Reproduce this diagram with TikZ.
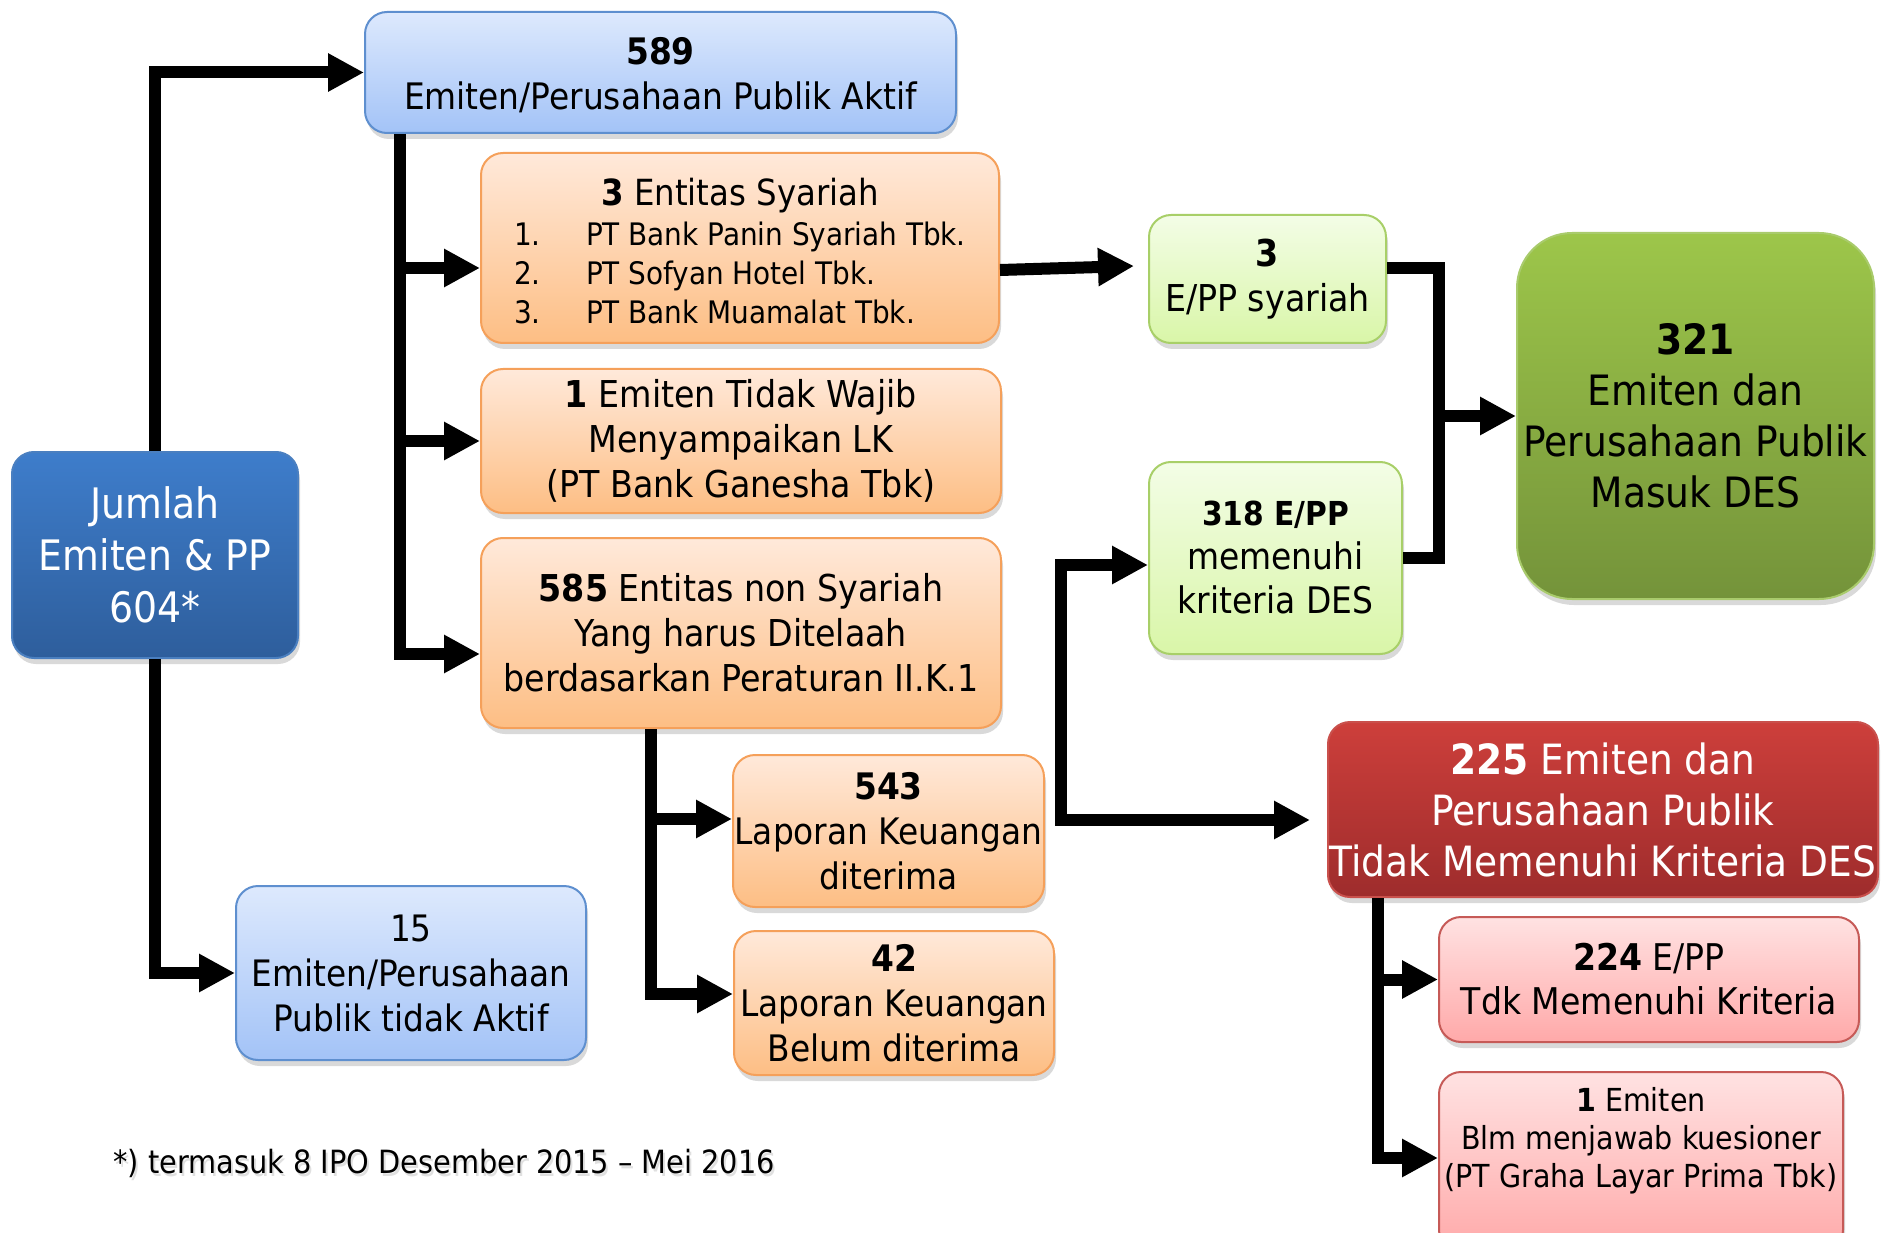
\documentclass[tikz,border=0pt]{standalone}
\usepackage{fontspec}
\setmainfont{DejaVu Sans Condensed}
\usetikzlibrary{arrows.meta,shadows}

\definecolor{bluetop}{HTML}{DDE9FD}
\definecolor{bluebot}{HTML}{A3C3F7}
\definecolor{blueline}{HTML}{5E8FCF}
\definecolor{navytop}{HTML}{3E7DCB}
\definecolor{navybot}{HTML}{2E5E9C}
\definecolor{navyline}{HTML}{4A7FC0}
\definecolor{orgtop}{HTML}{FFE9DA}
\definecolor{orgbot}{HTML}{FDBE84}
\definecolor{orgline}{HTML}{F5A05A}
\definecolor{limetop}{HTML}{F3FDE6}
\definecolor{limebot}{HTML}{D9F6A8}
\definecolor{limeline}{HTML}{A8CF68}
\definecolor{greentop}{HTML}{9DC64A}
\definecolor{greenbot}{HTML}{74933A}
\definecolor{greenline}{HTML}{A9CB6C}
\definecolor{redtop}{HTML}{CD3F3B}
\definecolor{redbot}{HTML}{9E2C2C}
\definecolor{redline}{HTML}{C9504C}
\definecolor{pinktop}{HTML}{FFE2E2}
\definecolor{pinkbot}{HTML}{FFA9A9}
\definecolor{pinkline}{HTML}{C65A57}

\tikzset{
    box/.style={rounded corners=22pt, inner sep=0pt, align=center, line width=2pt,
        drop shadow={shadow xshift=2pt, shadow yshift=-6pt, opacity=0.3}},
    paleblue/.style={box, draw=blueline, top color=bluetop, bottom color=bluebot},
    navy/.style={box, draw=navyline, top color=navytop, bottom color=navybot, text=white},
    orange/.style={box, draw=orgline, top color=orgtop, bottom color=orgbot},
    lime/.style={box, draw=limeline, top color=limetop, bottom color=limebot},
    leaf/.style={box, rounded corners=55pt, draw=greenline, top color=greentop, bottom color=greenbot},
    brick/.style={box, draw=redline, top color=redtop, bottom color=redbot, text=white},
    rose/.style={box, draw=pinkline, top color=pinktop, bottom color=pinkbot},
    link/.style={line width=12pt, line join=miter},
    arr/.style={link, -{Triangle[length=36pt,width=36pt]}},
    sz/.style 2 args={font=\fontsize{#1}{#2}\selectfont}
}

\begin{document}
\begin{tikzpicture}[x=1pt,y=-1pt]
    \useasboundingbox (0,0) rectangle (1883,1233);
    % boxes
    \node[navy, sz={42}{52}, minimum width=286pt, minimum height=206pt] (jml) at (155,555)
        {Jumlah\\Emiten \& PP\\604*};
    \node[paleblue, sz={36.5}{45}, minimum width=591pt, minimum height=121pt] (aktif) at (660.5,72.5)
        {\rule{0pt}{33pt}\textbf{589}\\Emiten/Perusahaan Publik Aktif};
    \node[orange, minimum width=518pt, minimum height=190pt] (syr) at (740,248)
        {\fontsize{36}{41}\selectfont\rule{0pt}{44pt}\textbf{3} Entitas Syariah\\[4pt]
         \fontsize{31}{39}\selectfont
         \begin{tabular}{@{}p{72pt}@{}l@{}}
            1. & PT Bank Panin Syariah Tbk.\\
            2. & PT Sofyan Hotel Tbk.\\
            3. & PT Bank Muamalat Tbk.
         \end{tabular}};
    \node[orange, sz={37}{45}, minimum width=520pt, minimum height=144pt] (wjb) at (741,441)
        {\textbf{1} Emiten Tidak Wajib\\Menyampaikan LK\\(PT Bank Ganesha Tbk)};
    \node[orange, sz={37}{45}, minimum width=520pt, minimum height=190pt] (non) at (741,633)
        {\textbf{585} Entitas non Syariah\\Yang harus Ditelaah\\berdasarkan Peraturan II.K.1};
    \node[orange, sz={36.5}{45}, minimum width=311pt, minimum height=152pt] (lk1) at (888.5,831)
        {\textbf{543}\\Laporan Keuangan\\diterima};
    \node[orange, sz={36.5}{45}, minimum width=320pt, minimum height=144pt] (lk2) at (894,1003)
        {\textbf{42}\\Laporan Keuangan\\Belum diterima};
    \node[paleblue, sz={36.4}{45}, minimum width=350pt, minimum height=174pt] (tdk) at (411,973)
        {15\\Emiten/Perusahaan\\Publik tidak Aktif};
    \node[lime, sz={37}{45}, minimum width=237pt, minimum height=128pt] (esy) at (1267.5,279)
        {\textbf{3}\\E/PP syariah};
    \node[lime, sz={36.6}{44}, minimum width=253pt, minimum height=192pt] (des) at (1275.5,558)
        {{\fontsize{33}{44}\selectfont\textbf{318 E/PP}}\\memenuhi\\kriteria DES};
    \node[leaf, sz={41.8}{51}, minimum width=357pt, minimum height=366pt] (masuk) at (1695.5,416)
        {\textbf{321}\\Emiten dan\\Perusahaan Publik\\Masuk DES};
    \node[brick, sz={41.7}{51}, minimum width=550pt, minimum height=175pt] (tmk) at (1603,809.5)
        {\textbf{225} Emiten dan\\Perusahaan Publik\\Tidak Memenuhi Kriteria DES};
    \node[rose, sz={36.8}{44}, minimum width=420pt, minimum height=125pt] (e224) at (1649,979.5)
        {\textbf{224} E/PP\\Tdk Memenuhi Kriteria};
    \node[rose, sz={31.7}{38}, minimum width=404pt, minimum height=180pt] (blm) at (1641,1162)
        {\textbf{1} Emiten\\Blm menjawab kuesioner\\(PT Graha Layar Prima Tbk)\\\strut};
    % footnote with soft shadow
    \node[anchor=west, sz={32}{38}, text=black!12] (notesh) at (112,1166)
        {*) termasuk 8 IPO Desember 2015 -- Mei 2016};
    \node[anchor=west, sz={32}{38}] (note) at (110,1163)
        {*) termasuk 8 IPO Desember 2015 -- Mei 2016};
    % connector points
    \coordinate (ta) at ([xshift=-260.5pt]aktif.south);
    \coordinate (syrin) at ([yshift=-20pt]syr.west);
    \coordinate (nonin) at ([yshift=-21pt]non.west);
    \coordinate (tb) at ([xshift=-90pt]non.south);
    \coordinate (lk1in) at ([yshift=12pt]lk1.west);
    \coordinate (lk2in) at ([yshift=9pt]lk2.west);
    \coordinate (syrout) at ([yshift=-22pt]syr.east);
    \coordinate (esyin) at ([xshift=-14pt,yshift=13pt]esy.west);
    \coordinate (esyout) at ([yshift=11pt]esy.east);
    \coordinate (jn) at ([xshift=-77pt]masuk.west);
    \coordinate (fk) at (1061,565);
    \coordinate (fkb) at (1061,820);
    \coordinate (tc) at ([xshift=-225pt]tmk.south);
    \coordinate (blmin) at ([yshift=4pt]blm.west);
    % connectors
    \draw[arr] (jml.north) |- (aktif.west);
    \draw[arr] (jml.south) |- (tdk.west);
    \draw[arr] (ta) |- (nonin);
    \draw[arr] (ta |- syrin) -- (syrin);
    \draw[arr] (ta |- wjb.west) -- (wjb.west);
    \draw[arr] (tb) |- (lk2in);
    \draw[arr] (tb |- lk1in) -- (lk1in);
    \draw[arr] (syrout) -- (esyin);
    \draw[link] (esyout) -| (jn |- des.east) -- (des.east);
    \draw[arr] (jn) -- (masuk.west);
    \draw[arr] (fkb) -- (fk) -- (fk -| des.west);
    \draw[arr] (fk) -- (fkb) -- ([xshift=-17pt]fkb -| tmk.west);
    \draw[arr] (tc) |- (blmin);
    \draw[arr] (tc |- e224.west) -- (e224.west);
\end{tikzpicture}
\end{document}
